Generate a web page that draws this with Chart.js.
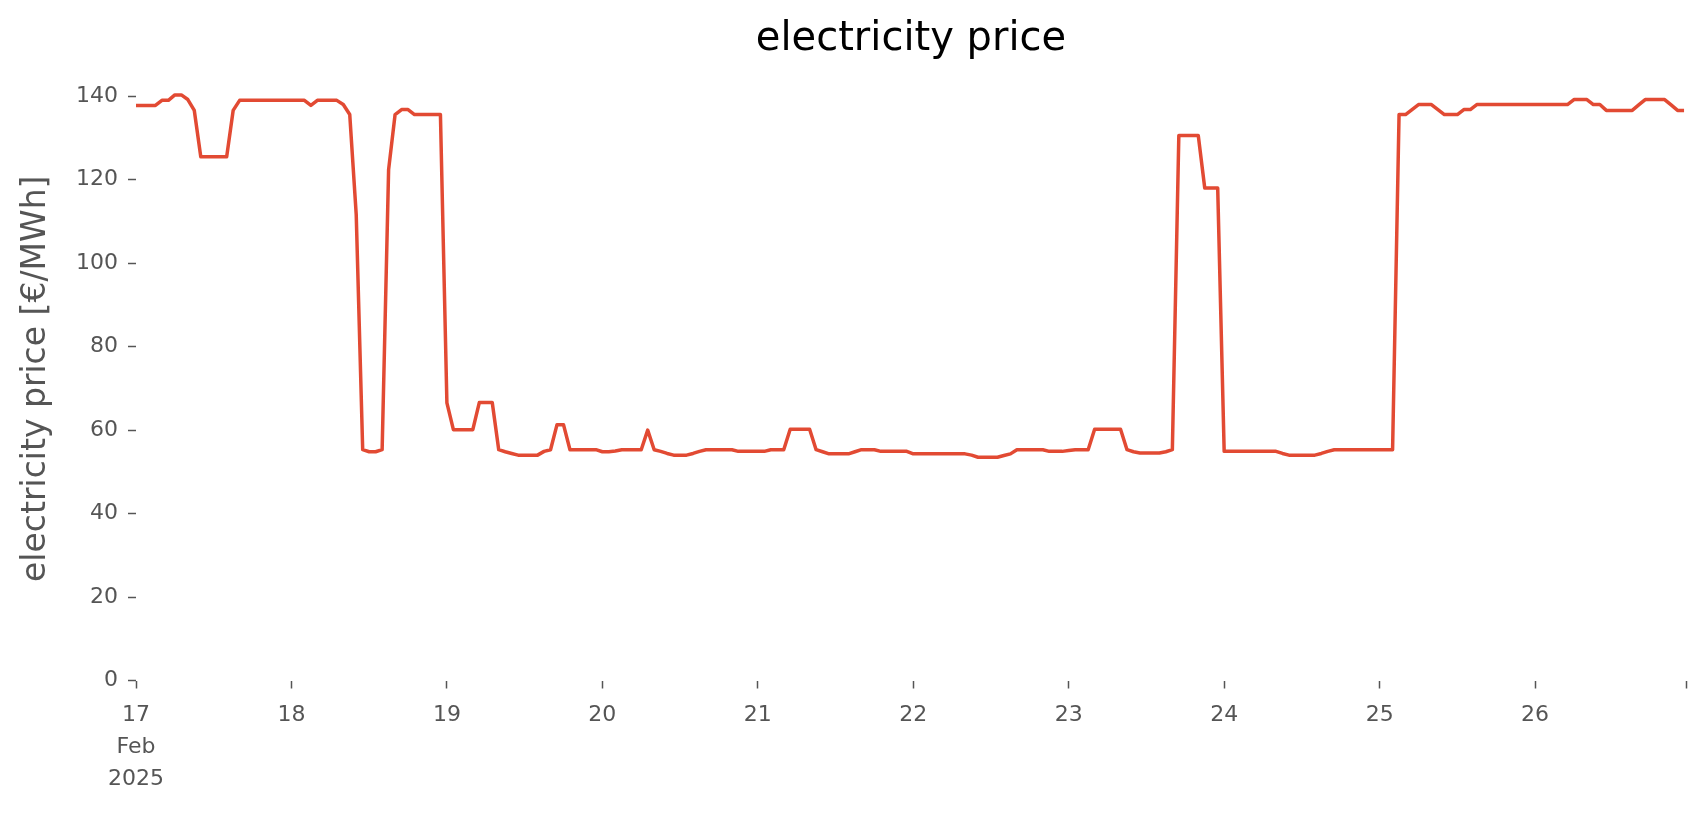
<!DOCTYPE html>
<html lang="en">
<head>
    <meta charset="UTF-8">
    <title>electricity price</title>
    <style>
        html, body { margin: 0; padding: 0; background: #fff; }
        canvas { display: block; }
    </style>
</head>
<body>
    <canvas id="chartId" width="1706" height="815"></canvas>
    <script src="https://cdn.jsdelivr.net/npm/chart.js@4.4.1/dist/chart.umd.min.js"></script>
    <script>
        // hourly price per day, €/MWh (Feb 2025)
        const feb17 = [137.8, 137.8, 137.8, 137.8, 139.0, 139.0, 140.3, 140.3, 139.2, 136.6, 125.5, 125.5,
                       125.5, 125.5, 125.5, 136.6, 139.0, 139.0, 139.0, 139.0, 139.0, 139.0, 139.0, 139.0];
        const feb18 = [139.0, 139.0, 139.0, 137.8, 139.0, 139.0, 139.0, 139.0, 138.0, 135.6, 111.6, 55.3,
                       54.8, 54.8, 55.3, 122.4, 135.6, 136.8, 136.8, 135.6, 135.6, 135.6, 135.6, 135.6];
        const feb19 = [66.5, 60.1, 60.1, 60.1, 60.1, 66.6, 66.6, 66.6, 55.3, 54.8, 54.4, 54.0,
                       54.0, 54.0, 54.0, 54.9, 55.3, 61.3, 61.3, 55.3, 55.3, 55.3, 55.3, 55.3];
        const feb20 = [54.8, 54.8, 55.0, 55.3, 55.3, 55.3, 55.3, 60.0, 55.3, 54.9, 54.4, 54.0,
                       54.0, 54.0, 54.4, 54.9, 55.3, 55.3, 55.3, 55.3, 55.3, 54.9, 54.9, 54.9];
        const feb21 = [54.9, 54.9, 55.3, 55.3, 55.3, 60.2, 60.2, 60.2, 60.2, 55.3, 54.8, 54.3,
                       54.3, 54.3, 54.3, 54.8, 55.3, 55.3, 55.3, 54.9, 54.9, 54.9, 54.9, 54.9];
        const feb22 = [54.3, 54.3, 54.3, 54.3, 54.3, 54.3, 54.3, 54.3, 54.3, 54.0, 53.5, 53.5,
                       53.5, 53.5, 53.9, 54.3, 55.3, 55.3, 55.3, 55.3, 55.3, 54.9, 54.9, 54.9];
        const feb23 = [55.1, 55.3, 55.3, 55.3, 60.2, 60.2, 60.2, 60.2, 60.2, 55.3, 54.8, 54.5,
                       54.5, 54.5, 54.5, 54.8, 55.3, 130.6, 130.6, 130.6, 130.6, 118.0, 118.0, 118.0];
        const feb24 = [54.9, 54.9, 54.9, 54.9, 54.9, 54.9, 54.9, 54.9, 54.9, 54.4, 54.0, 54.0,
                       54.0, 54.0, 54.0, 54.4, 54.9, 55.3, 55.3, 55.3, 55.3, 55.3, 55.3, 55.3];
        const feb25 = [55.3, 55.3, 55.3, 135.6, 135.6, 136.8, 138.0, 138.0, 138.0, 136.8, 135.6, 135.6,
                       135.6, 136.8, 136.8, 138.0, 138.0, 138.0, 138.0, 138.0, 138.0, 138.0, 138.0, 138.0];
        const feb26 = [138.0, 138.0, 138.0, 138.0, 138.0, 138.0, 139.2, 139.2, 139.2, 138.0, 138.0, 136.6,
                       136.6, 136.6, 136.6, 136.6, 137.9, 139.2, 139.2, 139.2, 139.2, 137.9, 136.6, 136.6];

        const dayLabels = ['17', '18', '19', '20', '21', '22', '23', '24', '25', '26'];
        const firstLabel = ['17', 'Feb', '2025'];
        const yTicks = [0, 20, 40, 60, 80, 100, 120, 140];

        const prices = [].concat(feb17, feb18, feb19, feb20, feb21, feb22, feb23, feb24, feb25, feb26);
        const points = prices.map((v, i) => ({ x: i, y: v }));
        const xMax = prices.length - 0.7;

        const grey = '#555555';
        const fam = '"DejaVu Sans", sans-serif';

        // title centred over the plot area, like matplotlib
        const axesTitle = {
            id: 'axesTitle',
            afterDraw(chart) {
                const { ctx, chartArea } = chart;
                ctx.save();
                ctx.font = '40px ' + fam;
                ctx.fillStyle = '#000';
                ctx.textAlign = 'center';
                ctx.textBaseline = 'middle';
                ctx.fillText('electricity price', (chartArea.left + chartArea.right) / 2, 40);
                ctx.restore();
            }
        };

        const ctx = document.getElementById('chartId').getContext('2d');
        const myChart = new Chart(ctx, {
            type: 'line',
            data: {
                datasets: [{
                    label: 'electricity price',
                    data: points,
                    borderColor: '#E24A33',
                    borderWidth: 3.5,
                    pointRadius: 0,
                    tension: 0,
                    fill: false,
                    borderJoinStyle: 'round'
                }]
            },
            options: {
                responsive: false,
                animation: false,
                layout: { padding: { left: 0, right: 20, top: 77, bottom: 0 } },
                plugins: {
                    legend: { display: false },
                    tooltip: { enabled: false },
                    title: { display: false }
                },
                scales: {
                    x: {
                        type: 'linear',
                        min: 0,
                        max: xMax,
                        grid: { drawOnChartArea: false, drawTicks: true, tickLength: 8, tickColor: grey, tickWidth: 1.5 },
                        border: { display: false },
                        afterBuildTicks: (scale) => {
                            const t = dayLabels.map((d, i) => ({ value: i * 24 }));
                            t.push({ value: xMax });
                            scale.ticks = t;
                        },
                        ticks: {
                            autoSkip: false,
                            maxRotation: 0,
                            padding: 11,
                            color: grey,
                            font: { family: fam, size: 22, lineHeight: 1.45 },
                            callback: (value) => {
                                if (value === 0) return firstLabel;
                                const d = value / 24;
                                return Number.isInteger(d) && d < dayLabels.length ? dayLabels[d] : '';
                            }
                        },
                        afterFit: (scale) => { scale.height = 134.5; }
                    },
                    y: {
                        min: 0,
                        max: 144.6,
                        grid: { drawOnChartArea: false, drawTicks: true, tickLength: 8, tickColor: grey, tickWidth: 1.5 },
                        border: { display: false },
                        afterBuildTicks: (scale) => { scale.ticks = yTicks.map(v => ({ value: v })); },
                        ticks: {
                            padding: 10,
                            color: grey,
                            font: { family: fam, size: 22 }
                        },
                        title: {
                            display: true,
                            text: 'electricity price [€/MWh]',
                            color: grey,
                            font: { family: fam, size: 33 },
                            padding: { top: 17, bottom: 0 }
                        },
                        afterFit: (scale) => { scale.width = 136; }
                    }
                }
            },
            plugins: [axesTitle]
        });
    </script>
</body>
</html>
